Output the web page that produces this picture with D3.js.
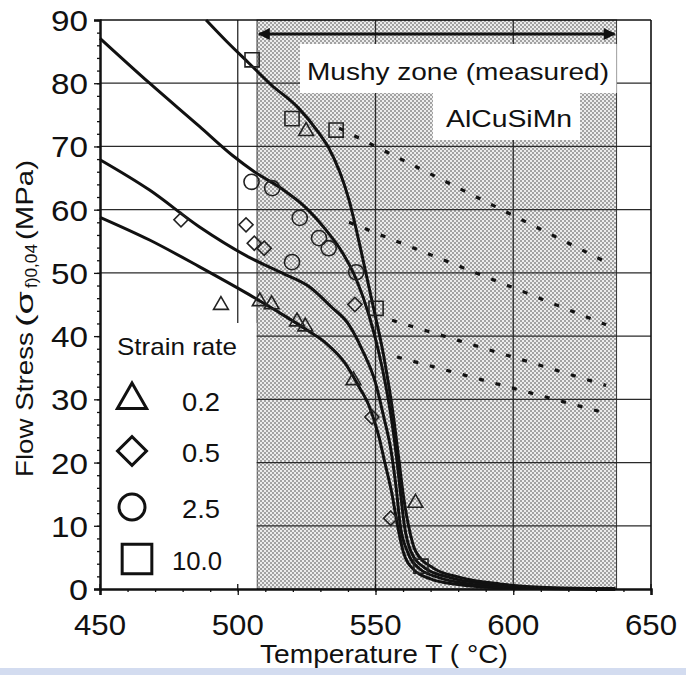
<!DOCTYPE html>
<html>
<head>
<meta charset="utf-8">
<script src="https://cdn.jsdelivr.net/npm/d3@7"></script>
<style>
  body { margin: 0; background: #fff; }
  svg text { font-family: "Liberation Sans", Arial, sans-serif; fill: #111; }
</style>
</head>
<body>
<div id="chart"></div>
<script>
// Axis ticks
const xTicks = [450, 500, 550, 600, 650];
const yTicks = [0, 10, 20, 30, 40, 50, 60, 70, 80, 90];
const xGrid = [500, 550, 600];
const yGrid = [10, 20, 30, 40, 50, 60, 70, 80];

// Measured mushy zone (temperature range)
const mushyZone = [507, 637.5];

// Fitted flow stress curves, [T, stress]
const curve02 = [[450, 58.8], [468, 55.2], [486, 51], [504, 46.6], [514, 44], [525, 41], [532, 38.9], [539, 35.7],
  [544, 32], [548, 28.6], [551, 24.5], [553.5, 19.8], [556, 15], [558, 10], [560, 6], [564, 3], [570, 1.6],
  [580, 0.7], [595, 0.2], [637, 0]];
const curve05 = [[450, 67.9], [468, 63.1], [486, 57.3], [504, 52.5], [516, 50], [526, 47.8], [534, 44.6], [540, 42],
  [545, 38], [550, 32.6], [553, 27.2], [555.6, 22], [557.5, 16], [559, 10], [561.5, 6], [566, 3.2], [573, 1.8],
  [584, 0.8], [600, 0.25], [637, 0]];
const curve25 = [[450, 87.1], [468, 80], [486, 73.2], [498, 68.6], [506, 66], [516, 63.3], [525, 60.2], [532, 56.8],
  [538, 53.2], [543, 49], [547.5, 43.5], [551, 37.8], [554, 31.5], [556, 26.3], [557.6, 21], [559, 15.5],
  [560.5, 10], [562.8, 6], [568, 3.3], [577, 1.8], [590, 0.8], [605, 0.25], [637, 0]];
const curve10 = [[488.5, 90], [496, 86.6], [504, 83.2], [512, 79.8], [522, 76.1], [529.5, 72.1], [533, 69.8],
  [540.4, 61.5], [544.7, 53.6], [548.4, 46.2], [553, 36.8], [556.7, 26.7], [558.5, 20.4], [560.2, 14.5],
  [562, 10], [564.5, 6], [571, 3.3], [581, 1.8], [595, 0.8], [612, 0.25], [637, 0.05]];

// Dotted extrapolations, [T, stress]
const extra10 = [[536.8, 72.9], [633.7, 51.7]];
const extra25 = [[540.4, 58.0], [633.7, 41.8]];
const extra05 = [[556, 42.5], [633.7, 32.2]];
const extra02 = [[557.8, 36.7], [633.7, 27.8]];

// Measured points, [T, stress]
const points02 = [[493.9, 44.9], [508, 45.5], [512.3, 45], [521.5, 42.3], [524.5, 41.5], [542, 33], [564.5, 13.6], [524.8, 72.4]];
const points05 = [[479.4, 58.4], [503, 57.6], [506, 54.7], [509.6, 53.9], [542.5, 45], [548.7, 27.2], [555.5, 11.2]];
const points25 = [[505, 64.4], [512.5, 63.4], [522.5, 58.7], [529.5, 55.5], [533, 53.9], [543, 50.1], [519.7, 51.7]];
const points10 = [[505.2, 83.7], [519.7, 74.4], [535.7, 72.6], [550.2, 44.4], [566.5, 3.6]];

const legendLabels = ["0.2", "0.5", "2.5", "10.0"];

const svg = d3.select("#chart").append("svg")
  .attr("width", 686)
  .attr("height", 675);

const x = d3.scaleLinear().domain([450, 650]).range([100, 651]);
const y = d3.scaleLinear().domain([0, 90]).range([589, 20]);

const defs = svg.append("defs");

// stipple fill for mushy zone
const pat = defs.append("pattern")
  .attr("id", "stipple")
  .attr("width", 4).attr("height", 4)
  .attr("patternUnits", "userSpaceOnUse");
pat.append("rect").attr("width", 4).attr("height", 4).attr("fill", "#ececec");
pat.append("circle").attr("cx", 1).attr("cy", 1).attr("r", 0.8).attr("fill", "#444");
pat.append("circle").attr("cx", 3).attr("cy", 3).attr("r", 0.8).attr("fill", "#444");

defs.append("marker")
  .attr("id", "head")
  .attr("viewBox", "0 0 10 10")
  .attr("refX", 9).attr("refY", 5)
  .attr("markerWidth", 5).attr("markerHeight", 4)
  .attr("markerUnits", "strokeWidth")
  .attr("orient", "auto-start-reverse")
  .append("path").attr("d", "M0,0 L10,5 L0,10 Z").attr("fill", "#111");

// Mushy zone
svg.append("rect")
  .attr("x", x(mushyZone[0]))
  .attr("y", y(90))
  .attr("width", x(mushyZone[1]) - x(mushyZone[0]))
  .attr("height", y(0) - y(90))
  .attr("fill", "url(#stipple)")
  .attr("stroke", "#333")
  .attr("stroke-width", 1);

// Grid
svg.append("g").selectAll("line").data(yGrid).join("line")
  .attr("x1", x(450)).attr("x2", x(650))
  .attr("y1", d => y(d)).attr("y2", d => y(d))
  .attr("stroke", "#2a2a2a").attr("stroke-width", 1.3);
svg.append("g").selectAll("line").data(xGrid).join("line")
  .attr("x1", d => x(d)).attr("x2", d => x(d))
  .attr("y1", y(90)).attr("y2", y(0))
  .attr("stroke", "#2a2a2a").attr("stroke-width", 1.3);

// White boxes (legend + labels)
svg.append("rect").attr("x", x(450) + 1).attr("y", 323)
  .attr("width", x(mushyZone[0]) - x(450) - 1.5).attr("height", y(0) - 323)
  .attr("fill", "#fff");
svg.append("rect").attr("x", 300).attr("y", 44)
  .attr("width", x(mushyZone[1]) - 300).attr("height", 49).attr("fill", "#fff");
svg.append("rect").attr("x", 433).attr("y", 93)
  .attr("width", 147).attr("height", 47).attr("fill", "#fff");

// Arrow across the mushy zone
svg.append("line")
  .attr("x1", x(mushyZone[0]) + 2).attr("x2", x(mushyZone[1]) - 2)
  .attr("y1", 34).attr("y2", 34)
  .attr("stroke", "#111").attr("stroke-width", 3)
  .attr("marker-start", "url(#head)")
  .attr("marker-end", "url(#head)");

function label(txt, px, py, size, len, anchor) {
  return svg.append("text")
    .attr("x", px).attr("y", py)
    .attr("font-size", size)
    .attr("text-anchor", anchor || "start")
    .attr("textLength", len)
    .attr("lengthAdjust", "spacingAndGlyphs")
    .text(txt);
}

label("Mushy zone (measured)", 307, 80, 24, 302);
label("AlCuSiMn", 446, 127, 24, 126);

// Dotted extrapolations
const line = d3.line().x(d => x(d[0])).y(d => y(d[1]));
svg.append("g").selectAll("path")
  .data([extra10, extra25, extra05, extra02]).join("path")
  .attr("d", line)
  .attr("fill", "none")
  .attr("stroke", "#111")
  .attr("stroke-width", 3.2)
  .attr("stroke-dasharray", "5,12");

// Solid curves
const curveLine = d3.line().x(d => x(d[0])).y(d => y(d[1])).curve(d3.curveMonotoneX);
svg.append("g").selectAll("path")
  .data([curve02, curve05, curve25, curve10]).join("path")
  .attr("d", curveLine)
  .attr("fill", "none")
  .attr("stroke", "#111")
  .attr("stroke-width", 3);

// Markers
const shapes = [
  { type: d3.symbolTriangle, size: 95, rot: 0, pts: points02, leg: 370 },
  { type: d3.symbolSquare, size: 100, rot: 45, pts: points05, leg: 420 },
  { type: d3.symbolCircle, size: 180, rot: 0, pts: points25, leg: 530 },
  { type: d3.symbolSquare, size: 200, rot: 0, pts: points10, leg: 880 }
];

shapes.forEach(s => {
  svg.append("g").selectAll("path")
    .data(s.pts).join("path")
    .attr("transform", d => `translate(${x(d[0])},${y(d[1])}) rotate(${s.rot})`)
    .attr("d", d3.symbol().type(s.type).size(s.size))
    .attr("fill", "none")
    .attr("stroke", "#222")
    .attr("stroke-width", 1.6);
});

// Legend
label("Strain rate", 117, 355, 24, 120);
const legendY = [400, 451, 507, 559];
const legendSymX = [132, 132, 132, 137];
shapes.forEach((s, i) => {
  svg.append("path")
    .attr("transform", `translate(${legendSymX[i]},${legendY[i]}) rotate(${s.rot})`)
    .attr("d", d3.symbol().type(s.type).size(s.leg))
    .attr("fill", "none")
    .attr("stroke", "#111")
    .attr("stroke-width", 3);
  const lx = i === 3 ? 172 : 182;
  label(legendLabels[i], lx, legendY[i] + 11, 26, i === 3 ? 50 : 38);
});

// Axes
svg.append("g")
  .attr("transform", `translate(0,${y(0)})`)
  .call(d3.axisBottom(x).tickValues(xTicks).tickSize(6).tickFormat(""));
svg.append("g")
  .attr("transform", `translate(0,${y(0)})`)
  .call(d3.axisBottom(x).tickValues(d3.range(450, 651, 10)).tickSize(3).tickFormat(""))
  .select(".domain").remove();
// major x ticks also go up into the plot
svg.append("g").selectAll("line").data(xTicks).join("line")
  .attr("x1", d => x(d)).attr("x2", d => x(d))
  .attr("y1", y(0)).attr("y2", y(0) - 5)
  .attr("stroke", "#111").attr("stroke-width", 1.3);

svg.append("g")
  .attr("transform", `translate(${x(450)},0)`)
  .call(d3.axisLeft(y).tickValues(yTicks).tickSize(6).tickFormat(""));
svg.append("g")
  .attr("transform", `translate(${x(450)},0)`)
  .call(d3.axisLeft(y).tickValues(d3.range(0, 91, 2)).tickSize(3).tickFormat(""))
  .select(".domain").remove();

svg.selectAll(".domain").attr("stroke", "#111").attr("stroke-width", 2.5);
svg.selectAll(".tick line").attr("stroke", "#111").attr("stroke-width", 1.3);

// Top and right frame
svg.append("line").attr("x1", x(450)).attr("x2", x(650)).attr("y1", y(90)).attr("y2", y(90))
  .attr("stroke", "#111").attr("stroke-width", 1.6);
svg.append("line").attr("x1", x(650)).attr("x2", x(650)).attr("y1", y(90)).attr("y2", y(0))
  .attr("stroke", "#111").attr("stroke-width", 1.6);

// Tick labels
yTicks.forEach(v => {
  label(String(v), 88, y(v) + 11, 30, v === 0 ? 19 : 37, "end");
});
xTicks.forEach(v => {
  label(String(v), x(v), 635, 30, 52, "middle");
});

// Axis titles
label("Temperature T ( \u00b0C)", 260, 663, 26, 248);

const yt = svg.append("g").attr("transform", "translate(33,0)");
function vlabel(txt, py, size, len, dx) {
  yt.append("text")
    .attr("transform", `translate(${dx || 0},${py}) rotate(-90)`)
    .attr("font-size", size)
    .attr("textLength", len)
    .attr("lengthAdjust", "spacingAndGlyphs")
    .text(txt);
}
vlabel("Flow Stress", 477, 24, 145);
vlabel("(\u03c3", 327, 24, 36);
vlabel("f)0,04", 288, 16, 44, 4);
vlabel("(MPa)", 240, 24, 80);

// light blue strip at the bottom of the scan
svg.append("rect").attr("x", 0).attr("y", 668).attr("width", 686).attr("height", 7).attr("fill", "#d3dcf0");
</script>
</body>
</html>
